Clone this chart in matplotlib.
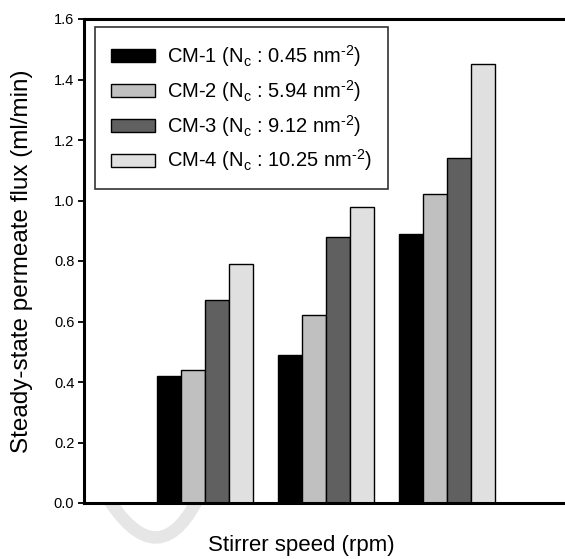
import matplotlib
matplotlib.use("Agg")
import matplotlib.pyplot as plt
import numpy as np
from matplotlib.path import Path
from matplotlib.patches import PathPatch

plt.rcParams['font.family'] = ['Liberation Sans', 'DejaVu Sans']
plt.rcParams['mathtext.fontset'] = 'custom'
plt.rcParams['mathtext.rm'] = 'Liberation Sans'

groups = ["G1", "G2", "G3"]
series = ["CM-1", "CM-2", "CM-3", "CM-4"]
nc_values = ["0.45", "5.94", "9.12", "10.25"]
cm1 = [0.42, 0.49, 0.89]
cm2 = [0.44, 0.62, 1.02]
cm3 = [0.67, 0.88, 1.14]
cm4 = [0.79, 0.98, 1.45]
values = [cm1, cm2, cm3, cm4]
colors = ["#000000", "#c0c0c0", "#606060", "#e0e0e0"]
yticks = [0.0, 0.2, 0.4, 0.6, 0.8, 1.0, 1.2, 1.4, 1.6]

W, H = 565, 559
fig = plt.figure(figsize=(W / 100, H / 100), dpi=100)

# faint watermark stroke (behind axes)
verts = [(104 / W, 1 - 492 / H), (160 / W, 1 - 585 / H), (203 / W, 1 - 488 / H)]
wm = PathPatch(Path(verts, [Path.MOVETO, Path.CURVE3, Path.CURVE3]),
               transform=fig.transFigure, fill=False, edgecolor="#e6e6e6",
               linewidth=9, zorder=0, capstyle='butt')
fig.patches.append(wm)

ax = fig.add_axes([84 / W, 56 / H, 484 / W, 484 / H], zorder=1)
x = np.arange(len(groups))
width = 0.2
for i, (vals, c) in enumerate(zip(values, colors)):
    label = r"%s (N$_\mathregular{c}$ : %s nm$^\mathregular{‐2}$)" % (series[i], nc_values[i])
    ax.bar(x + (i - 1.5) * width, vals, width, color=c, edgecolor="black",
           linewidth=1.0, label=label, zorder=2)

ax.set_xlim(-1, 3)
ax.set_ylim(0, 1.6)
ax.set_yticks(yticks)
ax.set_yticklabels(["%.1f" % v for v in yticks], fontsize=10.5)
ax.set_xticks([])
for s in ["left", "bottom", "top"]:
    ax.spines[s].set_linewidth(2.2)
ax.spines["right"].set_visible(False)
ax.tick_params(axis="y", direction="out", length=4, width=1.3, pad=3)

ax.set_ylabel("Steady-state permeate flux (ml/min)", fontsize=17.5, va="center")
ax.yaxis.set_label_coords(-62 / 484, 0.5)
ax.set_xlabel("Stirrer speed (rpm)", fontsize=16, va="center")
ax.xaxis.set_label_coords((301 - 84) / 484, -42 / 484)

leg = ax.legend(loc="upper left", bbox_to_anchor=(95 / W, 1 - 27 / H),
                bbox_transform=fig.transFigure, borderaxespad=0,
                fontsize=14.5, handlelength=2.2, handleheight=0.6,
                labelspacing=0.45, borderpad=0.78, handletextpad=0.6,
                fancybox=False, framealpha=1)
leg.get_frame().set_edgecolor("#333333")
leg.get_frame().set_linewidth(1.2)

fig.savefig("out.png", dpi=100)
